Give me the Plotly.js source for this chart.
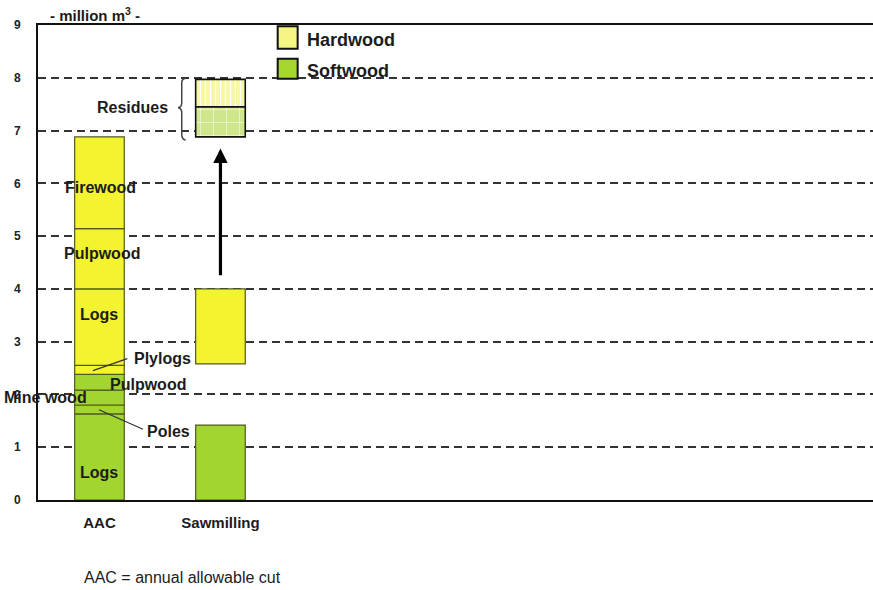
<!DOCTYPE html>
<html>
<head>
<meta charset="utf-8">
<script src="https://cdn.plot.ly/plotly-3.0.1.min.js"></script>
<style>
  html, body { margin: 0; padding: 0; background: #ffffff; }
  #chart { width: 873px; height: 590px; }
</style>
</head>
<body>
<div id="chart"></div>
<script>
// Wood flows, million m3
const categories = ['AAC', 'Sawmilling'];

// AAC, softwood segments from the bottom up
const aacSoftwoodParts = ['Logs', 'Poles', 'Mine wood', 'Pulpwood'];
const aacSoftwoodValues = [1.63, 0.17, 0.28, 0.30];

// AAC, hardwood segments stacked on top of softwood
const aacHardwoodParts = ['Plylogs', 'Logs', 'Pulpwood', 'Firewood'];
const aacHardwoodValues = [0.17, 1.45, 1.14, 1.74];

// Sawmilling input
const sawSoftwoodValue = 1.42;
const sawHardwoodBase = 2.58;
const sawHardwoodValue = 1.42;

// Sawmilling residues
const residuesBase = 6.88;
const residueSoftwoodValue = 0.57;
const residueHardwoodValue = 0.52;

// Arrow from sawmilling input to residues
const arrowFrom = 4.23;
const arrowTo = 6.66;

const yTickValues = [0, 1, 2, 3, 4, 5, 6, 7, 8, 9];
const speciesNames = ['Hardwood', 'Softwood'];

const HARD = '#f3f32f';
const SOFT = '#a3d531';
const EDGE = '#4f5a1c';
const TXT = '#1c1c1c';
const FONT = 'Arial, "Liberation Sans", sans-serif';

const xAAC = categories.indexOf('AAC');
const xSaw = categories.indexOf('Sawmilling');

function cumulativeBases(values, start) {
  const bases = [];
  let acc = start;
  values.forEach(v => { bases.push(acc); acc += v; });
  return bases;
}
const sum = a => a.reduce((s, v) => s + v, 0);

const softBases = cumulativeBases(aacSoftwoodValues, 0);
const hardBases = cumulativeBases(aacHardwoodValues, sum(aacSoftwoodValues));

const BAR_W = 0.41;

const traces = [
  {
    type: 'bar', name: 'Softwood',
    x: aacSoftwoodValues.map(() => xAAC).concat([xSaw]),
    y: aacSoftwoodValues.concat([sawSoftwoodValue]),
    base: softBases.concat([0]),
    width: BAR_W,
    marker: { color: SOFT, line: { color: EDGE, width: 1.2 } },
    hoverinfo: 'skip', showlegend: false
  },
  {
    type: 'bar', name: 'Hardwood',
    x: aacHardwoodValues.map(() => xAAC).concat([xSaw]),
    y: aacHardwoodValues.concat([sawHardwoodValue]),
    base: hardBases.concat([sawHardwoodBase]),
    width: BAR_W,
    marker: { color: HARD, line: { color: EDGE, width: 1.2 } },
    hoverinfo: 'skip', showlegend: false
  },
  {
    type: 'bar', name: 'Softwood residues',
    x: [xSaw], y: [residueSoftwoodValue], base: [residuesBase],
    width: BAR_W,
    marker: {
      color: '#cfe68c',
      line: { color: '#111', width: 1.6 },
      pattern: { shape: '+', fgcolor: '#ffffff', bgcolor: '#cfe68c', size: 13, solidity: 0.08 }
    },
    hoverinfo: 'skip', showlegend: false
  },
  {
    type: 'bar', name: 'Hardwood residues',
    x: [xSaw], y: [residueHardwoodValue], base: [residuesBase + residueSoftwoodValue],
    width: BAR_W,
    marker: {
      color: '#f8f8a4',
      line: { color: '#111', width: 1.6 },
      pattern: { shape: '|', fgcolor: '#ffffff', bgcolor: '#f8f8a4', size: 5, solidity: 0.25 }
    },
    hoverinfo: 'skip', showlegend: false
  }
];

const labelFont = { family: FONT, size: 16, color: TXT };
function label(text, x, y, anchor) {
  return { text: '<b>' + text + '</b>', x: x, y: y, xref: 'x', yref: 'y',
           showarrow: false, xanchor: anchor || 'center', yanchor: 'middle',
           font: labelFont };
}

const annotations = [
  // AAC hardwood
  label(aacHardwoodParts[3], xAAC + 0.005, 5.92),
  label(aacHardwoodParts[2], xAAC + 0.02, 4.67),
  label(aacHardwoodParts[1], xAAC, 3.51),
  label(aacHardwoodParts[0], 0.27, 2.68, 'left'),
  // AAC softwood
  label(aacSoftwoodParts[3], 0.4, 2.19),
  label(aacSoftwoodParts[2], -0.085, 1.94, 'right'),
  label(aacSoftwoodParts[1], 0.38, 1.30, 'left'),
  label(aacSoftwoodParts[0], xAAC, 0.52),
  label('Residues', 0.27, 7.43),
  // legend texts
  { text: '<b>' + speciesNames[0] + '</b>', x: 1.695, y: 8.72, xref: 'x', yref: 'y',
    showarrow: false, xanchor: 'left', yanchor: 'middle',
    font: { family: FONT, size: 18, color: TXT } },
  { text: '<b>' + speciesNames[1] + '</b>', x: 1.695, y: 8.13, xref: 'x', yref: 'y',
    showarrow: false, xanchor: 'left', yanchor: 'middle',
    font: { family: FONT, size: 18, color: TXT } },
  // unit label above the axis
  { text: '<b>- million m<sup>3</sup> -</b>', x: 0.012, y: 1.023, xref: 'paper', yref: 'paper',
    showarrow: false, xanchor: 'left', yanchor: 'middle',
    font: { family: FONT, size: 15, color: TXT } },
  // footnote
  { text: 'AAC = annual allowable cut', x: 0.053, y: -0.164, xref: 'paper', yref: 'paper',
    showarrow: false, xanchor: 'left', yanchor: 'middle',
    font: { family: FONT, size: 16, color: TXT } },
  // flow arrow
  { text: '', x: xSaw, y: arrowTo, ax: xSaw, ay: arrowFrom, axref: 'x', ayref: 'y',
    xref: 'x', yref: 'y', showarrow: true, arrowhead: 2, arrowsize: 0.9,
    arrowwidth: 3.2, arrowcolor: '#000', standoff: 0, startstandoff: 0 }
];

const shapes = [
  // leader lines
  { type: 'line', xref: 'x', yref: 'y', x0: -0.054, y0: 2.45, x1: 0.23, y1: 2.68,
    line: { color: '#333', width: 1.2 } },
  { type: 'line', xref: 'x', yref: 'y', x0: -0.004, y0: 1.71, x1: 0.36, y1: 1.34,
    line: { color: '#333', width: 1.2 } },
  // brace around residues
  { type: 'path', xref: 'x', yref: 'y',
    path: 'M 0.712,7.99 Q 0.680,7.98 0.680,7.90 L 0.680,7.52 Q 0.680,7.44 0.650,7.43 ' +
          'Q 0.680,7.42 0.680,7.34 L 0.680,6.93 Q 0.680,6.83 0.712,6.82',
    line: { color: '#444', width: 1.5 } },
  // legend swatches
  { type: 'rect', xref: 'x', yref: 'y', x0: 1.473, x1: 1.638, y0: 8.55, y1: 8.975,
    fillcolor: '#f5f583', line: { color: '#111', width: 2 } },
  { type: 'rect', xref: 'x', yref: 'y', x0: 1.473, x1: 1.638, y0: 7.98, y1: 8.36,
    fillcolor: '#a4d62e', line: { color: '#111', width: 2 } }
];

const layout = {
  width: 873, height: 590, autosize: false,
  margin: { l: 38, r: 0, t: 25, b: 90, pad: 0 },
  paper_bgcolor: '#ffffff', plot_bgcolor: '#ffffff',
  barmode: 'overlay',
  showlegend: false,
  font: { family: FONT, color: TXT },
  xaxis: {
    type: 'linear', range: [-0.508, 6.393], fixedrange: true,
    tickvals: categories.map((c, i) => i), ticktext: categories.map(c => '<b>' + c + '</b>'),
    ticks: '', ticklabelstandoff: 8,
    tickfont: { family: FONT, size: 15, color: TXT },
    showgrid: false, zeroline: false,
    showline: true, linecolor: '#111', linewidth: 2, mirror: true
  },
  yaxis: {
    range: [0, 9], fixedrange: true,
    tickvals: yTickValues, ticktext: yTickValues.map(v => '<b>' + v + '</b>'),
    ticks: '', ticklabelstandoff: 13,
    tickfont: { family: FONT, size: 12, color: '#222' },
    showgrid: true, gridcolor: '#333', gridwidth: 2, griddash: '8px,5px',
    zeroline: false, showline: true, linecolor: '#111', linewidth: 2
  },
  annotations: annotations,
  shapes: shapes
};

Plotly.newPlot('chart', traces, layout, { staticPlot: true, displayModeBar: false });
</script>
</body>
</html>
